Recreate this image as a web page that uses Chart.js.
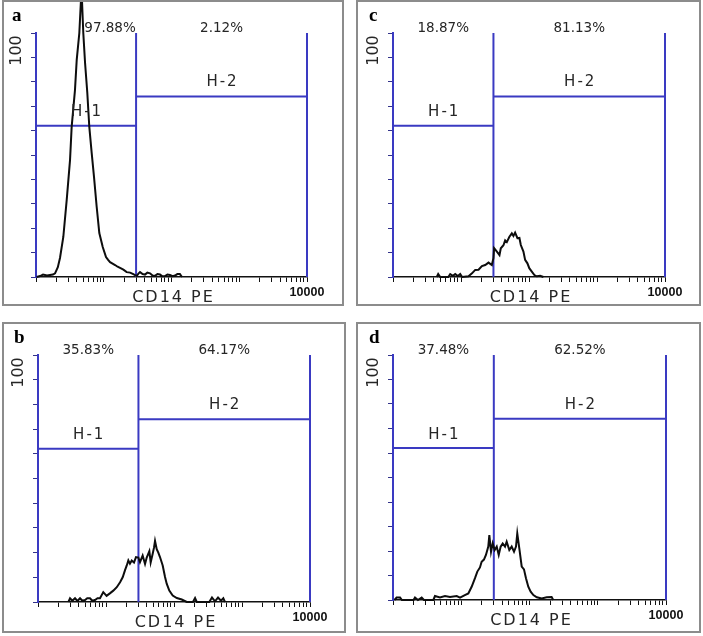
<!DOCTYPE html>
<html>
<head>
<meta charset="utf-8">
<script src="https://cdn.jsdelivr.net/npm/chart.js@4.4.1/dist/chart.umd.min.js"></script>
<style>
  body { margin: 0; background: #fff; width: 703px; height: 636px; position: relative; overflow: hidden; }
  .panel { position: absolute; box-sizing: border-box; border: 2px solid #8c8c8c; background: #fff; }
  .panel canvas { position: absolute; left: 0; top: 0; }
</style>
</head>
<body>
<div class="panel" style="left:2px;top:0px;width:342px;height:306px"><canvas id="histA" width="338" height="302"></canvas></div>
<div class="panel" style="left:356px;top:0px;width:345px;height:306px"><canvas id="histC" width="341" height="302"></canvas></div>
<div class="panel" style="left:2px;top:322px;width:344px;height:311px"><canvas id="histB" width="340" height="307"></canvas></div>
<div class="panel" style="left:356px;top:322px;width:345px;height:311px"><canvas id="histD" width="341" height="307"></canvas></div>

<script>
// gates, same for every sample
const gateMin = 1;
const gateSplit = 30;
const gateMax = 10000;
const h1Level = 62;
const h2Level = 74;
const yTop = 100;

const xTickValues = [1, 2, 3, 4, 5, 6, 7, 8, 9,
  10, 20, 30, 40, 50, 60, 70, 80, 90,
  100, 200, 300, 400, 500, 600, 700, 800, 900,
  1000, 2000, 3000, 4000, 5000, 6000, 7000, 8000, 9000, 10000];
const yTickValues = [0, 10, 20, 30, 40, 50, 60, 70, 80, 90, 100];
const xTickLabel = '10000';
const xTitle = 'CD14 PE';
const yTitle = '100';

const panelLetters = ['a', 'b', 'c', 'd'];
const h1Percent = ['97.88%', '35.83%', '18.87%', '37.48%'];
const h2Percent = ['2.12%', '64.17%', '81.13%', '62.52%'];

// CD14 PE histograms (intensity, count)
const histA_x = [1.02, 1.15, 1.27, 1.45, 1.78, 1.91, 2.1, 2.26, 2.53, 2.84, 3.18, 3.36, 3.76, 3.99, 4.36, 4.61, 4.77, 4.99, 5.29, 5.72, 6.12, 6.64, 7.18, 7.87, 8.6, 9.66, 10.8, 11.6, 12.4, 13.5, 14.7, 16.0, 17.4, 19.5, 21.8, 24.5, 27.3, 30.6, 32.5, 34.3, 37.5, 40.6, 44.0, 48.2, 52.5, 57, 62, 67.6, 73.5, 80.1, 87, 94.9, 104, 112.7, 122, 133, 143];
const histA_y = [0, 0.4, 1, 0.6, 1, 1.5, 4, 7.8, 16.4, 31.6, 48, 61.5, 76.6, 89, 100, 113.5, 113.5, 100, 88, 75.4, 61.5, 50.8, 41, 28.7, 18, 12.3, 8.2, 7.0, 6.1, 5.5, 4.9, 4.2, 3.7, 3.0, 2.0, 1.8, 1.2, 0.4, 1.4, 2.0, 1.2, 1.0, 1.8, 1.5, 0.6, 0.5, 1.2, 1.0, 0.3, 0.4, 1.0, 0.8, 0.3, 0.6, 1.2, 1.2, 0];

const histB_x = [2.8, 2.96, 3.2, 3.5, 3.8, 4.15, 4.5, 4.91, 5.3, 5.82, 6.3, 6.89, 7.5, 8.16, 9.12, 10.2, 11.4, 12.8, 14.4, 16.1, 17.6, 19.0, 20.2, 21.3, 22.5, 23.9, 25.8, 27.6, 29.9, 31.6, 34.6, 37.5, 39.7, 43.4, 45.4, 48.6, 50.8, 52.6, 55.7, 58.8, 62.2, 68.2, 73.8, 78.1, 85.3, 95.7, 110, 130, 154, 190, 204, 216, 330, 362, 401, 444, 491, 531, 562];
const histB_y = [0, 1.5, 0.5, 1.5, 0.4, 1.5, 0.5, 0.8, 1.5, 1.5, 0.5, 0.8, 1.5, 1.5, 4, 2.5, 3.5, 4.6, 6, 8, 10, 12.8, 14.8, 16.8, 15.5, 16.8, 16, 18.2, 18, 16.1, 18.8, 15.4, 18, 20.6, 16, 19.5, 22, 24.7, 21.4, 20, 18.2, 14.8, 10.1, 7.4, 4.6, 2.6, 1.6, 1, 0, 0, 1.6, 0, 0, 1.8, 0.3, 1.8, 0.5, 1.5, 0];

const histC_x = [4.4, 4.62, 4.95, 6.5, 6.94, 7.6, 8.22, 9.0, 9.73, 10.4, 12.9, 14.5, 16.2, 18.1, 20.3, 22.7, 25.4, 28.4, 30.0, 30.7, 33.7, 36.8, 38.5, 42.1, 44.6, 47.2, 51.5, 55.9, 59.0, 62.5, 67.6, 72.3, 75.8, 82.8, 87.7, 94.8, 101, 110, 120, 130, 146, 163];
const histC_y = [0, 1.2, 0, 0, 1.2, 0.5, 1.2, 0.4, 1.2, 0, 0.3, 1.5, 2.9, 3.0, 4.5, 4.9, 5.9, 4.9, 7.7, 11.8, 10.4, 9, 11.8, 13, 15, 14.3, 16.5, 17.9, 16.8, 18.2, 15.9, 16, 13.1, 10.4, 7, 5.6, 3.6, 2.2, 0.8, 0.3, 0.5, 0];

const histD_x = [1.05, 1.13, 1.27, 1.35, 2.0, 2.1, 2.32, 2.63, 2.84, 3.9, 4.12, 4.88, 5.78, 6.84, 8.58, 9.59, 11.3, 12.7, 14.2, 15.9, 17.2, 18.8, 19.9, 21.5, 23.0, 24.9, 25.8, 27.3, 28.9, 30.9, 33.1, 35.4, 37.8, 40.5, 43.8, 46.3, 50.6, 54.8, 59.3, 63.4, 66.2, 70.9, 76.9, 83.0, 88.8, 96.0, 104, 114, 128, 151, 179, 211, 223];
const histD_y = [0, 1, 1, 0, 0, 1, 0, 1, 0, 0, 1.6, 1, 1.6, 1.2, 1.6, 1, 2, 2.7, 5.4, 8.9, 11.6, 13.3, 15.6, 16.5, 18.4, 21.8, 26.5, 19.7, 23.1, 20.4, 21.8, 18.4, 21.8, 23.1, 21.8, 23.8, 20.4, 21.8, 19.7, 21.8, 27.2, 21.1, 13.6, 12.5, 8.9, 5.4, 3.4, 2, 1.1, 0.6, 1.1, 1.2, 0];

const gateColor = '#3a3ac2';
const textColor = '#262626';

const zip = (xs, ys) => xs.map((x, i) => ({ x, y: ys[i] }));

const seg = (x1, y1, x2, y2) => ({
  data: [{ x: x1, y: y1 }, { x: x2, y: y2 }],
  borderColor: gateColor,
  borderWidth: 2,
  pointRadius: 0,
  clip: false,
});

// text that FCS Express puts round the plot
const labels = {
  id: 'labels',
  afterDraw(chart) {
    const o = chart.options.plugins.labels;
    const { ctx, chartArea: ca } = chart;
    const x = chart.scales.x, y = chart.scales.y;
    const px1 = x.getPixelForValue(gateMin);
    const pxS = x.getPixelForValue(gateSplit);
    const px2 = x.getPixelForValue(gateMax);
    const c1 = (px1 + pxS) / 2, c2 = (pxS + px2) / 2;

    ctx.save();
    ctx.fillStyle = '#000';
    ctx.font = 'bold 19px "Liberation Serif"';
    ctx.textAlign = 'left';
    ctx.textBaseline = 'alphabetic';
    ctx.fillText(o.letter, ca.left - 24, ca.top - 12);

    ctx.fillStyle = textColor;
    ctx.textAlign = 'center';
    ctx.font = '13.5px "DejaVu Sans"';
    ctx.fillText(o.p1, c1 + (o.shift || 0), ca.top - 1.5);
    ctx.fillText(o.p2, c2, ca.top - 1.5);

    ctx.letterSpacing = '2px';
    ctx.font = '15px "DejaVu Sans"';
    ctx.fillText('H-1', c1 + 1, y.getPixelForValue(h1Level) - 9.5);
    ctx.fillText('H-2', c2 + 1, y.getPixelForValue(h2Level) - 10);

    ctx.font = '16px "DejaVu Sans"';
    ctx.fillText(xTitle, (ca.left + ca.right) / 2 + 2, ca.bottom + 25);
    ctx.letterSpacing = '0px';

    ctx.translate(ca.left - 19.5, ca.top + 17.5);
    ctx.rotate(-Math.PI / 2);
    ctx.textBaseline = 'middle';
    ctx.font = '16px "DejaVu Sans"';
    ctx.fillText(yTitle, 0, 0);
    ctx.restore();
  }
};

function makePanel(id, idx, xs, ys, area, shift) {
  const cv = document.getElementById(id);
  const W = cv.width, H = cv.height;
  const xAxisH = 22;
  return new Chart(cv, {
    type: 'line',
    data: {
      datasets: [
        {
          data: zip(xs, ys),
          borderColor: '#0d0d0d',
          borderWidth: 2,
          pointRadius: 0,
          tension: 0,
          clip: false,
        },
        seg(gateMin, 0, gateMin, yTop),
        seg(gateMin, h1Level, gateSplit, h1Level),
        seg(gateSplit, 0, gateSplit, yTop),
        seg(gateSplit, h2Level, gateMax, h2Level),
        seg(gateMax, 0, gateMax, yTop),
      ]
    },
    options: {
      responsive: false,
      animation: false,
      events: [],
      layout: {
        padding: { left: 0, top: area.top, right: W - area.right, bottom: H - area.bottom - xAxisH }
      },
      plugins: {
        legend: { display: false },
        tooltip: { enabled: false },
        labels: { letter: panelLetters[idx], p1: h1Percent[idx], p2: h2Percent[idx], shift },
      },
      scales: {
        x: {
          type: 'logarithmic',
          min: gateMin,
          max: gateMax,
          afterBuildTicks: (s) => { s.ticks = xTickValues.map(v => ({ value: v })); },
          afterFit: (s) => { s.height = xAxisH; },
          grid: { drawOnChartArea: false, tickLength: 5, color: '#111' },
          border: { color: '#111', width: 1.5 },
          ticks: {
            autoSkip: false,
            maxRotation: 0,
            padding: 3,
            color: '#111',
            font: { family: 'Liberation Sans', weight: 'bold', size: 12.5 },
            callback: (v) => (v === gateMax ? xTickLabel : ''),
          },
        },
        y: {
          min: 0,
          max: yTop,
          afterBuildTicks: (s) => { s.ticks = yTickValues.map(v => ({ value: v })); },
          afterFit: (s) => { s.width = area.left; },
          grid: { drawOnChartArea: false, tickLength: 5, color: '#33338a' },
          border: { color: gateColor, width: 2 },
          ticks: { display: false },
        },
      }
    },
    plugins: [labels]
  });
}

makePanel('histA', 0, histA_x, histA_y, { left: 32, top: 31, right: 303, bottom: 275 }, 24);
makePanel('histB', 1, histB_x, histB_y, { left: 34, top: 31, right: 306, bottom: 278 }, 0);
makePanel('histC', 2, histC_x, histC_y, { left: 35, top: 31, right: 307, bottom: 275 }, 0);
makePanel('histD', 3, histD_x, histD_y, { left: 35, top: 31, right: 308, bottom: 276 }, 0);
</script>
</body>
</html>
